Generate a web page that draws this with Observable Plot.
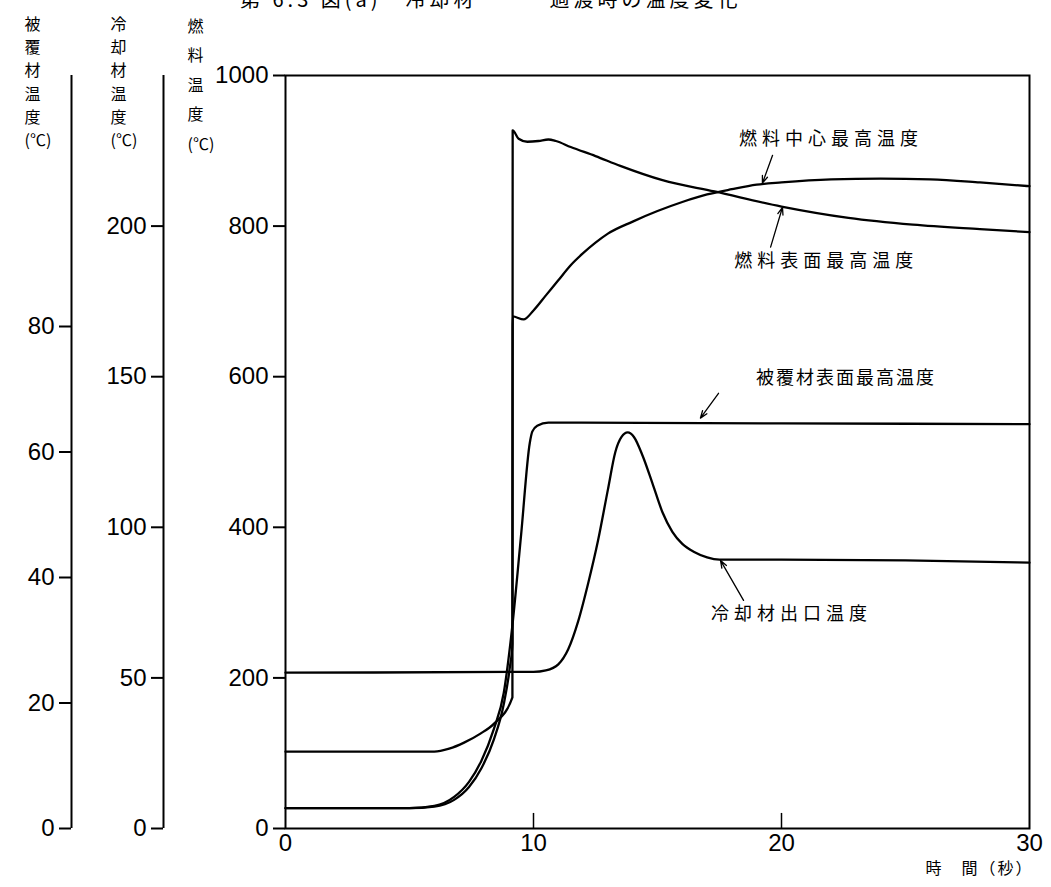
<!DOCTYPE html>
<html><head><meta charset="utf-8">
<script src="https://cdn.jsdelivr.net/npm/d3@7"></script>
<script src="https://cdn.jsdelivr.net/npm/@observablehq/plot@0.6"></script>
<style>
body{margin:0;background:#fff;position:relative;}
#title{position:absolute;left:0;top:0;height:12px;overflow:hidden;width:1051px;z-index:2;}
#title span{position:absolute;left:240px;top:-11px;font-family:"Noto Sans CJK JP";font-size:20px;line-height:20px;white-space:pre;letter-spacing:4px;color:#000;}
#chart svg{display:block;}
</style></head><body>
<div id="title"><span>第 6.3 図(a)　冷却材　　　過渡時の温度変化</span></div>
<div id="chart"></div>
<script>
// ---- data (time in s, value on fuel-temperature scale) ----
const fuelTicks = [0, 200, 400, 600, 800, 1000];
const coolantTicks = [0, 50, 100, 150, 200];
const claddingTicks = [0, 20, 40, 60, 80];
const xTicks = [0, 10, 20, 30];
const xInnerTicks = [10, 20];

const fuelCenter = [[0,27],[5,27],[6,29],[6.8,38],[7.4,55],[7.9,80],[8.4,118],[8.8,165],[9.05,215],[9.15,245],[9.16,680],[9.6,676],[10,688],[10.5,708],[11,728],[11.5,748],[12,764],[12.5,778],[13,790],[14,806],[15,820],[16,832],[17,842],[18,849],[19,855],[20,858],[22,862],[24,863],[26,862],[28,858],[30,853]];
const fuelSurface = [[0,102],[6,102],[6.6,106],[7.2,114],[7.86,126],[8.4,139],[9.15,174],[9.16,927],[9.4,916],[9.75,912],[10.2,913],[10.6,915],[10.9,913],[11.5,905],[12.5,893],[13.5,880],[15.2,861],[17.3,846],[20,826],[22.7,811],[25.3,802],[28,796],[30,792]];
const claddingSurface = [[0,27],[5,27],[6,30],[6.8,42],[7.4,62],[7.9,90],[8.4,132],[8.8,180],[9.15,270],[9.5,390],[9.85,512],[9.95,527],[10.15,535],[10.6,539],[20,538],[30,537]];
const coolantOutlet = [[0,207],[10,208],[10.5,210],[11,218],[11.4,238],[11.8,275],[12.2,325],[12.6,382],[13,450],[13.3,500],[13.55,520],[13.8,526],[14.05,520],[14.4,495],[14.8,458],[15.2,420],[15.6,394],[16,378],[16.5,367],[17,360],[17.5,357],[20,357],[25,356],[30,353]];

const annotations = [
  {label: "燃料中心最高温度", tx: 22.0, ty: 915, x1: 19.64, y1: 894, x2: 19.23, y2: 857},
  {label: "燃料表面最高温度", tx: 21.8, ty: 753, x1: 19.56, y1: 772, x2: 20.04, y2: 825},
  {label: "被覆材表面最高温度", tx: 22.6, ty: 598, x1: 17.46, y1: 578, x2: 16.73, y2: 545},
  {label: "冷却材出口温度", tx: 20.4, ty: 285, x1: 18.47, y1: 303, x2: 17.54, y2: 356}
];
const cladTitle = "被\n覆\n材\n温\n度\n(℃)";
const coolTitle = "冷\n却\n材\n温\n度\n(℃)";
const fuelTitle = "燃\n料\n温\n度\n(℃)";
const xTitle = "時　間（秒）";

// ---- styles ----
const CJK = '"Noto Sans CJK JP", sans-serif';
const labelSpacing = {"燃料中心最高温度": 5, "燃料表面最高温度": 5, "被覆材表面最高温度": 2, "冷却材出口温度": 5, "時　間（秒）": 2};
const toFuelFromCoolant = d => d * 4;
const toFuelFromCladding = d => d * 1000 / 120;

const lineOpts = {x: d => d[0], y: d => d[1], curve: "monotone-x", strokeWidth: 2.3, strokeLinejoin: "round", strokeLinecap: "round"};

const chart = Plot.plot({
  width: 1051, height: 887,
  marginLeft: 285, marginRight: 22, marginTop: 75, marginBottom: 59,
  x: {domain: [0, 30]},
  y: {domain: [0, 1000]},
  style: {fontFamily: '"Liberation Sans", Arial, sans-serif', fontSize: "24px", color: "#000", background: "#fff"},
  marks: [
    Plot.frame({strokeWidth: 2}),
    // main fuel axis
    Plot.axisY(fuelTicks, {tickFormat: d => String(d), tickSize: 12, tickPadding: 5, strokeWidth: 2, label: null}),
    // coolant axis
    Plot.ruleX([0], {y1: 0, y2: 1000, dx: -122, strokeWidth: 2}),
    Plot.axisY(coolantTicks.map(toFuelFromCoolant), {tickFormat: d => String(Math.round(d / 4)), dx: -122, tickSize: 12, tickPadding: 5, strokeWidth: 2, label: null}),
    // cladding axis
    Plot.ruleX([0], {y1: 0, y2: 1000, dx: -214, strokeWidth: 2}),
    Plot.axisY(claddingTicks.map(toFuelFromCladding), {tickFormat: d => String(Math.round(d * 120 / 1000)), dx: -214, tickSize: 12, tickPadding: 5, strokeWidth: 2, label: null}),
    // x axis
    Plot.axisX(xTicks, {tickFormat: d => String(d), tickSize: 0, tickPadding: 5, label: null}),
    Plot.ruleX(xInnerTicks, {y1: 0, y2: 20, strokeWidth: 1.5}),
    // curves
    Plot.line(coolantOutlet, lineOpts),
    Plot.line(claddingSurface, lineOpts),
    Plot.line(fuelSurface, lineOpts),
    Plot.line(fuelCenter, lineOpts),
    // annotations
    Plot.arrow(annotations, {x1: "x1", y1: "y1", x2: "x2", y2: "y2", headLength: 9, headAngle: 40, strokeWidth: 1.3}),
    Plot.text(annotations, {x: "tx", y: "ty", text: "label", fontFamily: CJK, fontSize: 18}),
    // axis titles
    Plot.text([cladTitle], {frameAnchor: "top-left", dx: -261, dy: -62, lineAnchor: "top", lineHeight: 1.45, fontFamily: CJK, fontSize: 16, text: d => d}),
    Plot.text([coolTitle], {frameAnchor: "top-left", dx: -175, dy: -62, lineAnchor: "top", lineHeight: 1.45, fontFamily: CJK, fontSize: 16, text: d => d}),
    Plot.text([fuelTitle], {frameAnchor: "top-left", dx: -98, dy: -65, lineAnchor: "top", lineHeight: 1.85, fontFamily: CJK, fontSize: 16, text: d => d}),
    Plot.text([xTitle], {frameAnchor: "bottom-right", dx: 4, dy: 40, textAnchor: "end", lineAnchor: "middle", fontFamily: CJK, fontSize: 16, text: d => d})
  ]
});
d3.select(chart).selectAll("text").each(function() {
  const t = this.textContent;
  if (labelSpacing[t] !== undefined) this.setAttribute("letter-spacing", labelSpacing[t]);
});
document.getElementById("chart").appendChild(chart);
</script></body></html>
